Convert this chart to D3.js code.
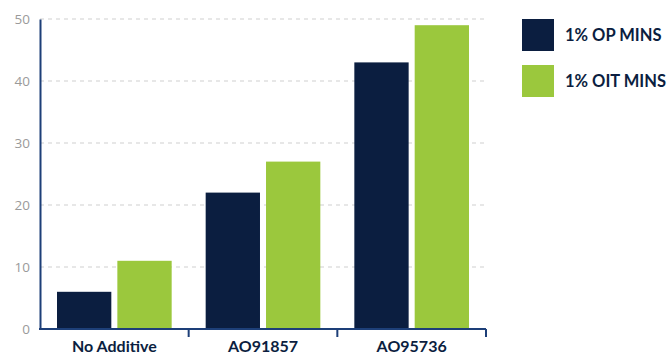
<!DOCTYPE html>
<html>
<head>
<meta charset="utf-8">
<script src="https://cdn.jsdelivr.net/npm/d3@7"></script>
<style>
  html, body { margin: 0; padding: 0; background: #fff; }
  svg { display: block; }
</style>
</head>
<body>
<svg id="chart" width="668" height="356"></svg>
<script>
// Additive trials: minutes to reach 1% OP and 1% OIT
const categories = ["No Additive", "AO91857", "AO95736"];
const seriesNames = ["1% OP MINS", "1% OIT MINS"];
const opMins = [6, 22, 43];
const oitMins = [11, 27, 49];
const yTicks = [0, 10, 20, 30, 40, 50];
const colors = ["#0b1e40", "#9bc83d"];

const svg = d3.select("#chart");
const margin = { left: 40, right: 182, top: 19, bottom: 27 };
const W = 668, H = 356;
const x0 = margin.left, x1 = W - margin.right;
const yTop = margin.top, yBot = H - margin.bottom;

const x = d3.scaleBand().domain(categories).range([x0, x1]).paddingInner(0).paddingOuter(0);
const inner = d3.scaleBand().domain(seriesNames).range([17, x.bandwidth() - 17]).paddingInner(0.1);
const y = d3.scaleLinear().domain([0, 50]).range([yBot, yTop]);

// dashed gridlines
svg.append("g")
  .selectAll("line")
  .data(yTicks.filter(d => d > 0))
  .join("line")
  .attr("x1", x0).attr("x2", x1)
  .attr("y1", d => y(d)).attr("y2", d => y(d))
  .attr("stroke", "#cfcfcf")
  .attr("stroke-width", 1.2)
  .attr("stroke-dasharray", "4,4");

// bars
const rows = categories.map((c, i) => ({ cat: c, vals: [opMins[i], oitMins[i]] }));
const groups = svg.append("g").selectAll("g")
  .data(rows).join("g")
  .attr("transform", d => `translate(${x(d.cat)},0)`);
groups.selectAll("rect")
  .data(d => d.vals.map((v, j) => ({ name: seriesNames[j], v, j })))
  .join("rect")
  .attr("x", d => inner(d.name))
  .attr("width", inner.bandwidth())
  .attr("y", d => y(d.v))
  .attr("height", d => y(0) - y(d.v))
  .attr("fill", d => colors[d.j]);

// y axis
const yAxis = d3.axisLeft(y).tickValues(yTicks).tickSize(0).tickPadding(10);
const gy = svg.append("g").attr("transform", `translate(${x0},0)`).call(yAxis);
gy.select(".domain").attr("stroke", "#1d3f78").attr("stroke-width", 2);
gy.selectAll("text")
  .attr("fill", "#9a9a9a")
  .style("font-family", "'Open Sans', sans-serif")
  .style("font-size", "13.5px");

// x axis with ticks at band boundaries
const gx = svg.append("g").attr("transform", `translate(0,${yBot})`);
gx.append("path")
  .attr("d", `M${x0 - 1},0H${x1}`)
  .attr("stroke", "#1d3f78").attr("stroke-width", 2).attr("fill", "none");
gx.selectAll("line.tick")
  .data(categories)
  .join("line")
  .attr("class", "tick")
  .attr("x1", d => x(d) + x.bandwidth()).attr("x2", d => x(d) + x.bandwidth())
  .attr("y1", 0).attr("y2", 8)
  .attr("stroke", "#1d3f78").attr("stroke-width", 2);
gx.selectAll("text")
  .data(categories)
  .join("text")
  .attr("x", d => x(d) + x.bandwidth() / 2)
  .attr("y", 23)
  .attr("text-anchor", "middle")
  .attr("fill", "#0b1e40")
  .style("font-family", "Lato, sans-serif")
  .style("font-weight", "bold")
  .style("font-size", "16px")
  .text(d => d);

// legend
const legend = svg.append("g").attr("transform", "translate(522,19)");
const items = legend.selectAll("g").data(seriesNames).join("g")
  .attr("transform", (d, i) => `translate(0,${i * 46})`);
items.append("rect").attr("width", 32).attr("height", 32)
  .attr("fill", (d, i) => colors[i]);
items.append("text")
  .attr("x", 43).attr("y", 22)
  .attr("fill", "#0b1e40")
  .style("font-family", "Lato, sans-serif")
  .style("font-weight", "bold")
  .style("font-size", "16.5px")
  .text(d => d);
</script>
</body>
</html>
